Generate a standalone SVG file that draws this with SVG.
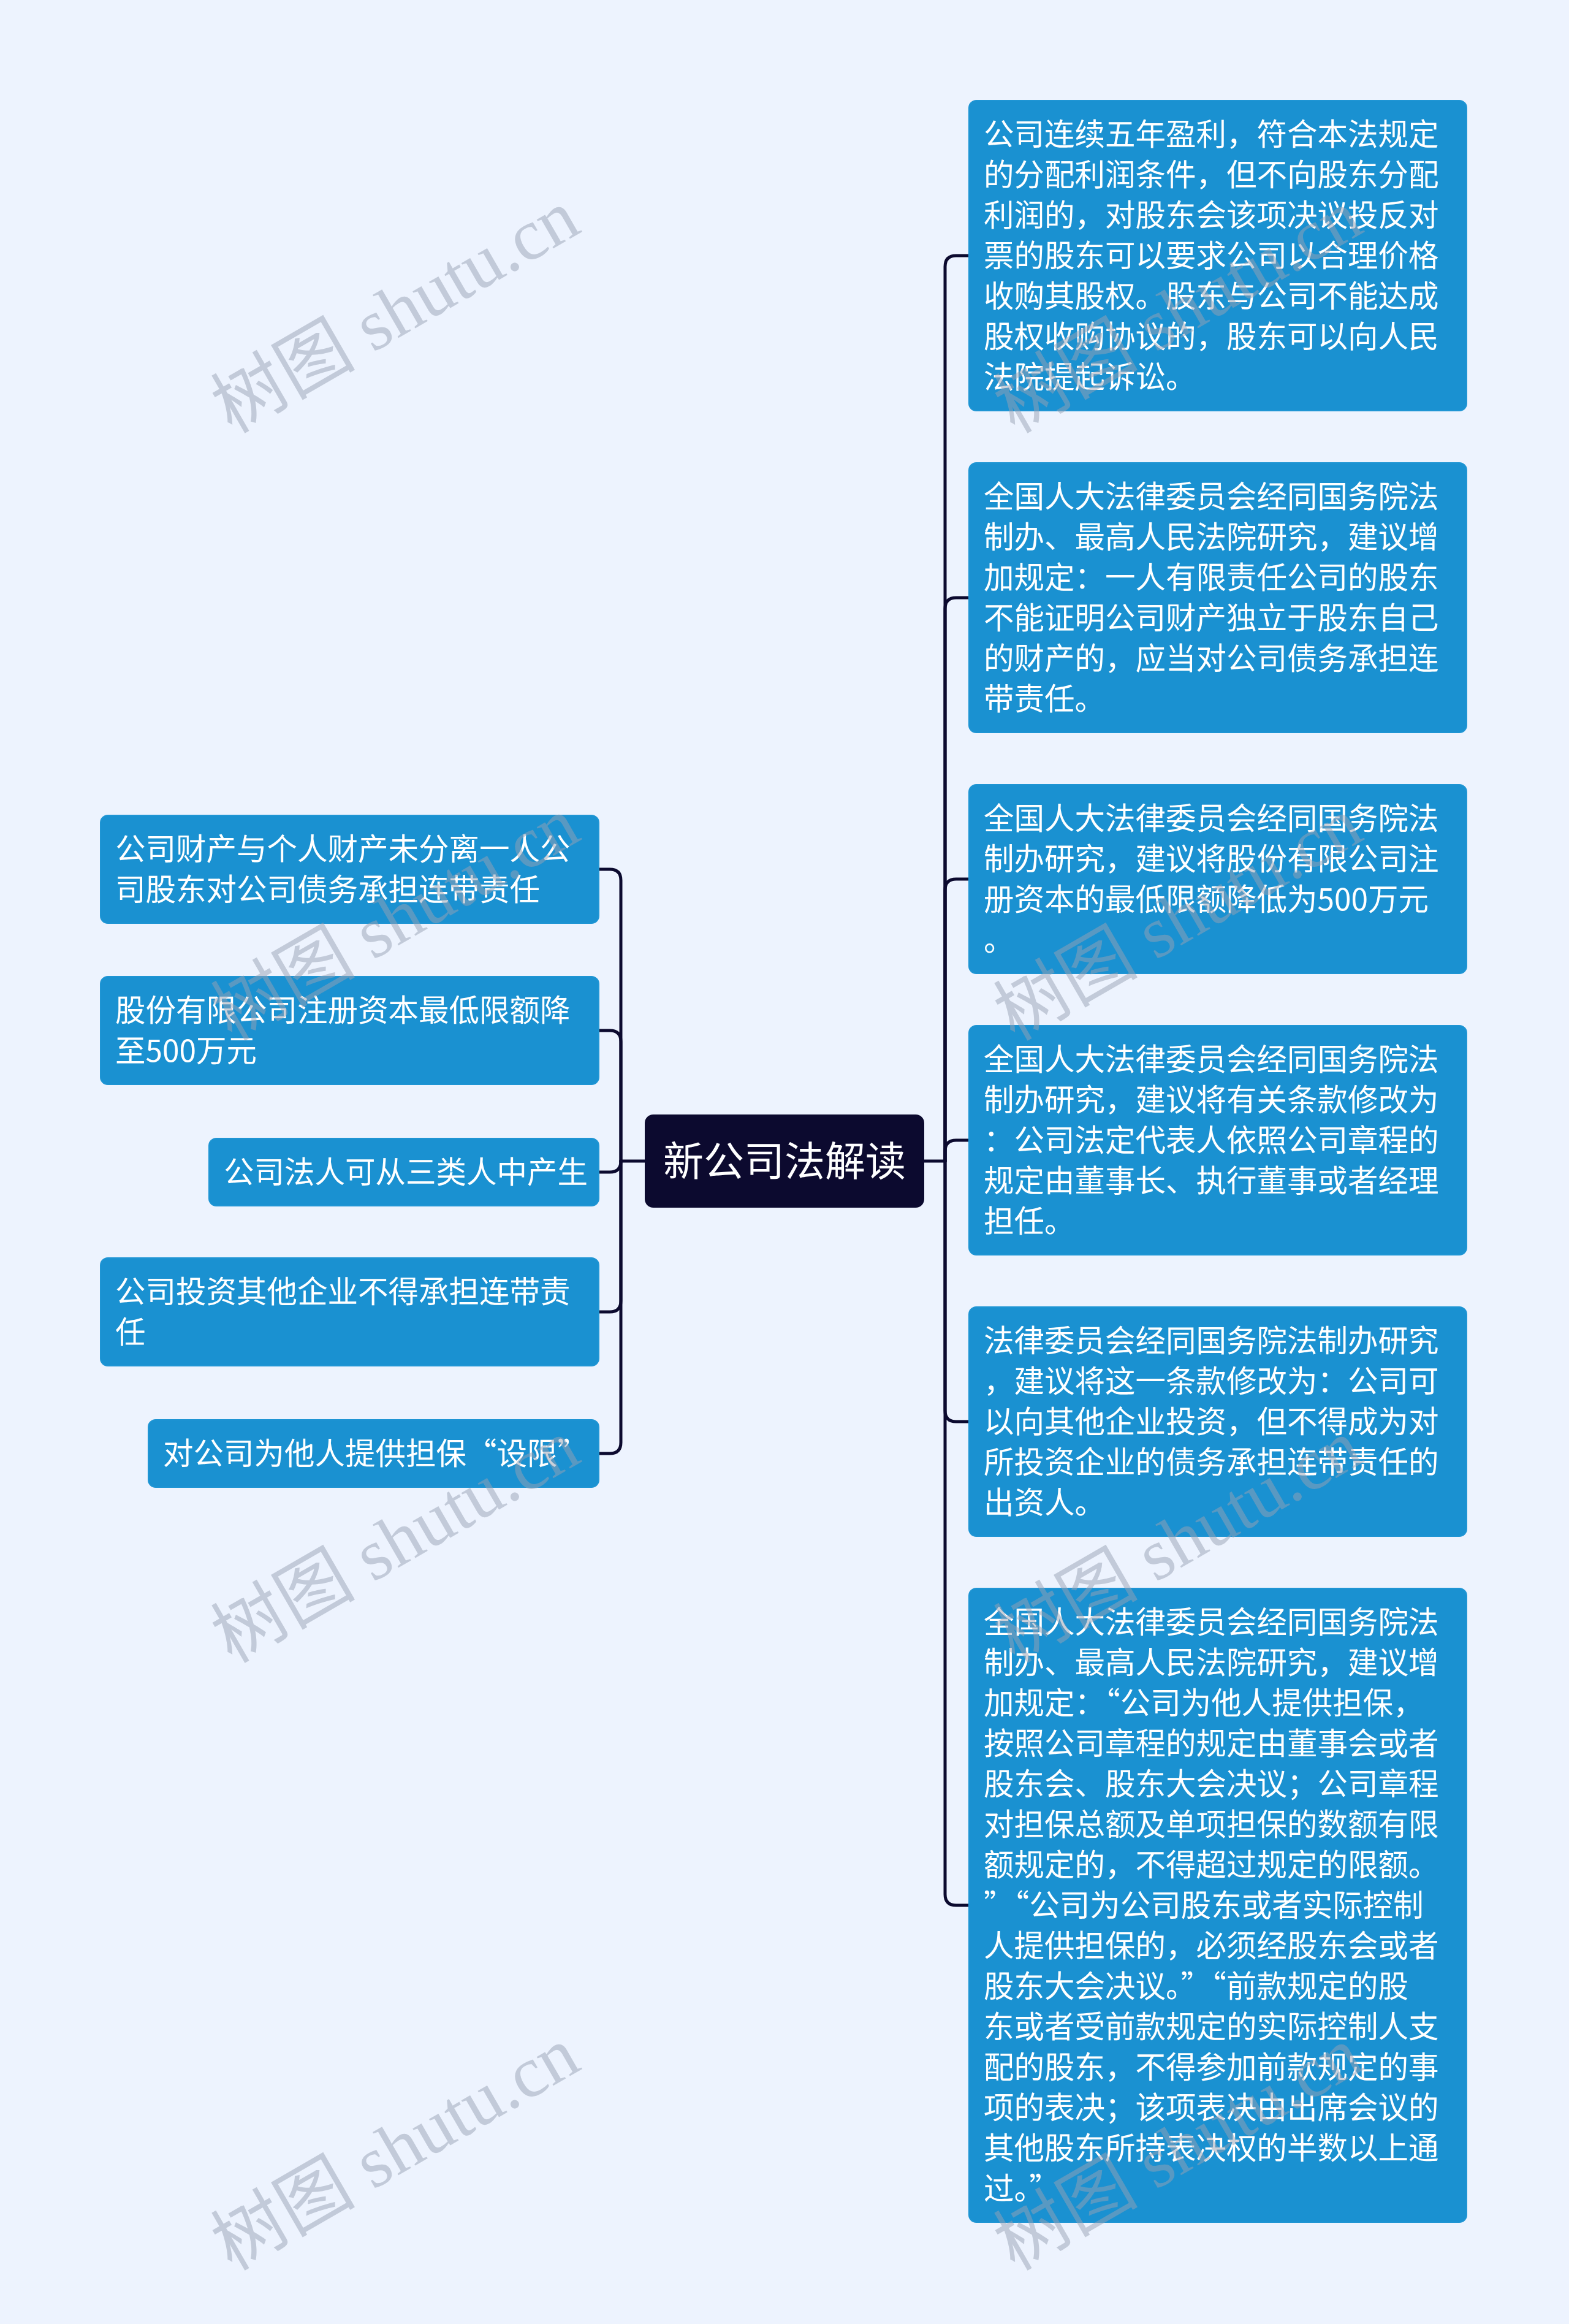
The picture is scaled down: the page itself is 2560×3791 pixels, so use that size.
<svg xmlns="http://www.w3.org/2000/svg" width="2560" height="3791" viewBox="0 0 2560 3791">
<style>
.bg{fill:#edf3fe}
.node rect{fill:#1a91d1;stroke:#1f95d4;stroke-width:2}
.node text{fill:#ffffff;font-family:"Noto Sans CJK SC","Noto Sans",sans-serif;font-size:49.5px}
.root rect{fill:#0c0a2f}
.root text{fill:#ffffff;font-family:"Noto Sans CJK SC","Noto Sans",sans-serif;font-size:66px}
.conn path{fill:none;stroke:#0c0a2f;stroke-width:5;stroke-linecap:round;stroke-linejoin:round}
.wm text{fill:#98a1b4;fill-opacity:0.5;font-family:"Liberation Serif","Noto Sans CJK SC",serif;font-size:118px}
</style>
<rect class="bg" x="0" y="0" width="2560" height="3791"/>
<g id="connectors" class="conn">
<path d="M1508,1894 H1542 V435 Q1542,417 1560,417 H1581"/>
<path d="M1542,1894 V993 Q1542,975 1560,975 H1581"/>
<path d="M1542,1894 V1452 Q1542,1434 1560,1434 H1581"/>
<path d="M1542,1894 V1878 Q1542,1860 1560,1860 H1581"/>
<path d="M1542,1894 V2301 Q1542,2319 1560,2319 H1581"/>
<path d="M1542,1894 V3090 Q1542,3108 1560,3108 H1581"/>
<path d="M1052,1894 H1013 V1436 Q1013,1418 995,1418 H977"/>
<path d="M1013,1894 V1699 Q1013,1681 995,1681 H977"/>
<path d="M1013,1894 Q1013,1912 995,1912 H977"/>
<path d="M1013,1894 V2122 Q1013,2140 995,2140 H977"/>
<path d="M1013,1894 V2353 Q1013,2371 995,2371 H977"/>
</g>
<g id="root" class="root">
<rect x="1052" y="1818" width="456" height="152" rx="14"/>
<text x="1280" y="1918" text-anchor="middle">新公司法解读</text>
</g>
<g id="r1" class="node">
<rect x="1581" y="164" width="812" height="506" rx="12"/>
<text x="1605"><tspan x="1605" y="237">公司连续五年盈利，符合本法规定</tspan><tspan x="1605" y="303">的分配利润条件，但不向股东分配</tspan><tspan x="1605" y="369">利润的，对股东会该项决议投反对</tspan><tspan x="1605" y="435">票的股东可以要求公司以合理价格</tspan><tspan x="1605" y="501">收购其股权。股东与公司不能达成</tspan><tspan x="1605" y="567">股权收购协议的，股东可以向人民</tspan><tspan x="1605" y="633">法院提起诉讼。</tspan></text>
</g>
<g id="r2" class="node">
<rect x="1581" y="755" width="812" height="440" rx="12"/>
<text x="1605"><tspan x="1605" y="828">全国人大法律委员会经同国务院法</tspan><tspan x="1605" y="894">制办、最高人民法院研究，建议增</tspan><tspan x="1605" y="960">加规定：一人有限责任公司的股东</tspan><tspan x="1605" y="1026">不能证明公司财产独立于股东自己</tspan><tspan x="1605" y="1092">的财产的，应当对公司债务承担连</tspan><tspan x="1605" y="1158">带责任。</tspan></text>
</g>
<g id="r3" class="node">
<rect x="1581" y="1280" width="812" height="308" rx="12"/>
<text x="1605"><tspan x="1605" y="1353">全国人大法律委员会经同国务院法</tspan><tspan x="1605" y="1419">制办研究，建议将股份有限公司注</tspan><tspan x="1605" y="1485">册资本的最低限额降低为500万元</tspan><tspan x="1605" y="1551">。</tspan></text>
</g>
<g id="r4" class="node">
<rect x="1581" y="1673" width="812" height="374" rx="12"/>
<text x="1605"><tspan x="1605" y="1746">全国人大法律委员会经同国务院法</tspan><tspan x="1605" y="1812">制办研究，建议将有关条款修改为</tspan><tspan x="1605" y="1878">：公司法定代表人依照公司章程的</tspan><tspan x="1605" y="1944">规定由董事长、执行董事或者经理</tspan><tspan x="1605" y="2010">担任。</tspan></text>
</g>
<g id="r5" class="node">
<rect x="1581" y="2132" width="812" height="374" rx="12"/>
<text x="1605"><tspan x="1605" y="2205">法律委员会经同国务院法制办研究</tspan><tspan x="1605" y="2271">，建议将这一条款修改为：公司可</tspan><tspan x="1605" y="2337">以向其他企业投资，但不得成为对</tspan><tspan x="1605" y="2403">所投资企业的债务承担连带责任的</tspan><tspan x="1605" y="2469">出资人。</tspan></text>
</g>
<g id="r6" class="node">
<rect x="1581" y="2591" width="812" height="1034" rx="12"/>
<text x="1605"><tspan x="1605" y="2664">全国人大法律委员会经同国务院法</tspan><tspan x="1605" y="2730">制办、最高人民法院研究，建议增</tspan><tspan x="1605" y="2796">加规定：“公司为他人提供担保，</tspan><tspan x="1605" y="2862">按照公司章程的规定由董事会或者</tspan><tspan x="1605" y="2928">股东会、股东大会决议；公司章程</tspan><tspan x="1605" y="2994">对担保总额及单项担保的数额有限</tspan><tspan x="1605" y="3060">额规定的，不得超过规定的限额。</tspan><tspan x="1605" y="3126">”“公司为公司股东或者实际控制</tspan><tspan x="1605" y="3192">人提供担保的，必须经股东会或者</tspan><tspan x="1605" y="3258">股东大会决议。”“前款规定的股</tspan><tspan x="1605" y="3324">东或者受前款规定的实际控制人支</tspan><tspan x="1605" y="3390">配的股东，不得参加前款规定的事</tspan><tspan x="1605" y="3456">项的表决；该项表决由出席会议的</tspan><tspan x="1605" y="3522">其他股东所持表决权的半数以上通</tspan><tspan x="1605" y="3588">过。”</tspan></text>
</g>
<g id="l1" class="node">
<rect x="164" y="1330" width="813" height="176" rx="12"/>
<text x="188"><tspan x="188" y="1403">公司财产与个人财产未分离一人公</tspan><tspan x="188" y="1469">司股东对公司债务承担连带责任</tspan></text>
</g>
<g id="l2" class="node">
<rect x="164" y="1593" width="813" height="176" rx="12"/>
<text x="188"><tspan x="188" y="1666">股份有限公司注册资本最低限额降</tspan><tspan x="188" y="1732">至500万元</tspan></text>
</g>
<g id="l3" class="node">
<rect x="341" y="1857" width="636" height="110" rx="12"/>
<text x="365" y="1930">公司法人可从三类人中产生</text>
</g>
<g id="l4" class="node">
<rect x="164" y="2052" width="813" height="176" rx="12"/>
<text x="188"><tspan x="188" y="2125">公司投资其他企业不得承担连带责</tspan><tspan x="188" y="2191">任</tspan></text>
</g>
<g id="l5" class="node">
<rect x="242" y="2316" width="735" height="110" rx="12"/>
<text x="266" y="2389">对公司为他人提供担保“设限”</text>
</g>
<g id="watermarks" class="wm">
<text transform="translate(645 508) rotate(-30)" text-anchor="middle" y="40">树图 shutu.cn</text>
<text transform="translate(645 1499) rotate(-30)" text-anchor="middle" y="40">树图 shutu.cn</text>
<text transform="translate(645 2514) rotate(-30)" text-anchor="middle" y="40">树图 shutu.cn</text>
<text transform="translate(645 3505) rotate(-30)" text-anchor="middle" y="40">树图 shutu.cn</text>
<text transform="translate(1922 508) rotate(-30)" text-anchor="middle" y="40">树图 shutu.cn</text>
<text transform="translate(1922 1499) rotate(-30)" text-anchor="middle" y="40">树图 shutu.cn</text>
<text transform="translate(1922 2514) rotate(-30)" text-anchor="middle" y="40">树图 shutu.cn</text>
<text transform="translate(1922 3505) rotate(-30)" text-anchor="middle" y="40">树图 shutu.cn</text>
</g>
</svg>
